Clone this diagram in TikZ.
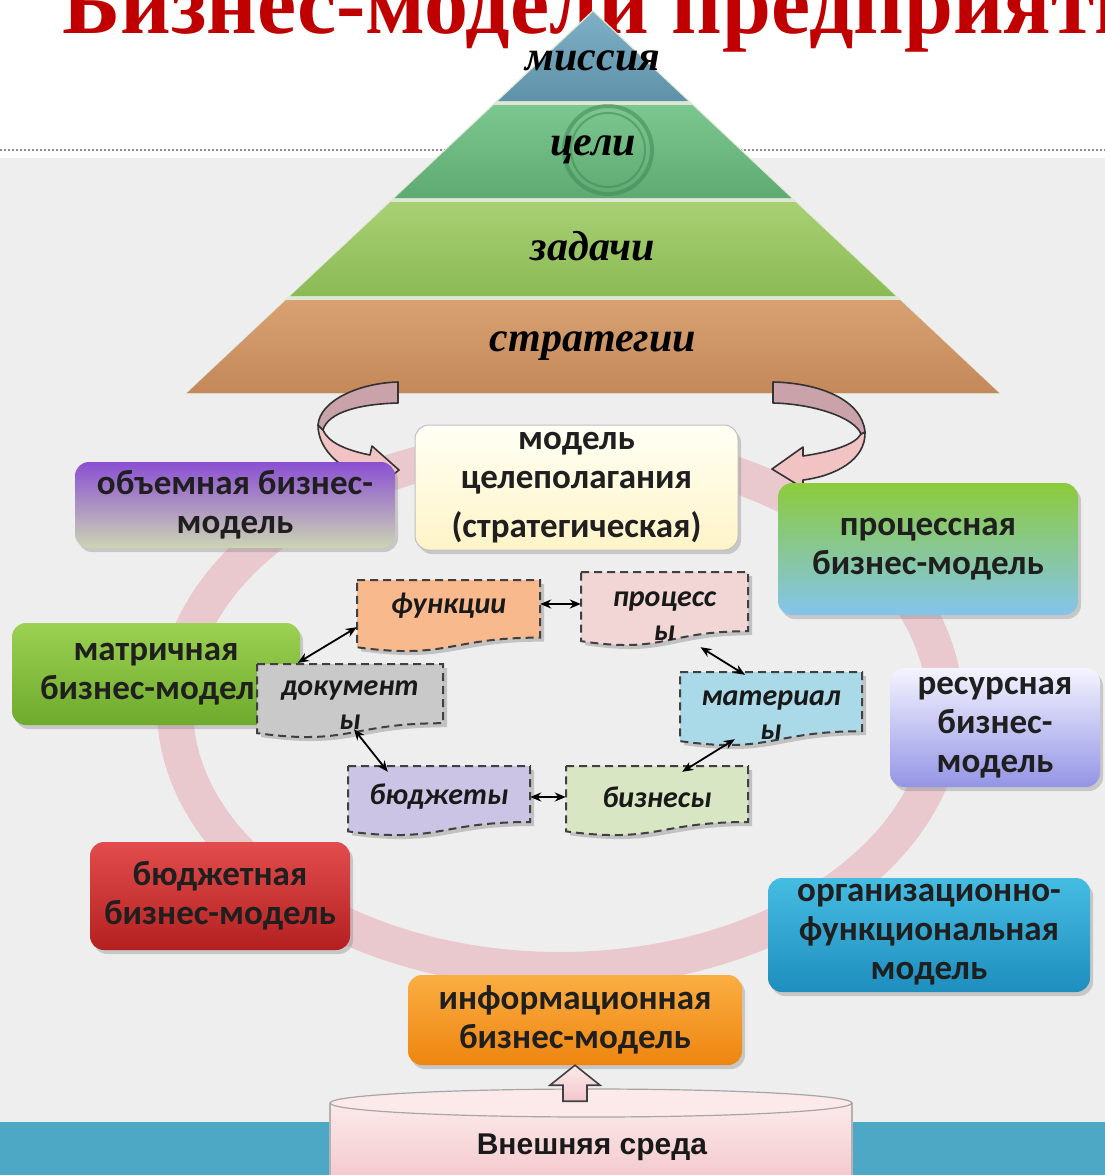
\documentclass[tikz,border=0pt]{standalone}
\usepackage{fontspec}
\setmainfont{Carlito}
\newfontfamily\boxfont{Carlito}
\newfontfamily\serifrus{Liberation Serif}
\newfontfamily\envfont{Liberation Sans}
\usetikzlibrary{shadows,arrows.meta,calc}

\definecolor{bggray}{HTML}{EEEEEE}
\definecolor{teal1}{HTML}{4DA8C6}
\definecolor{titlered}{HTML}{C00000}
\definecolor{ringc}{HTML}{E9C9CE}
\definecolor{misT}{HTML}{7DB0C6}\definecolor{misB}{HTML}{5F91A8}
\definecolor{celT}{HTML}{7CC690}\definecolor{celB}{HTML}{5FAA73}
\definecolor{zadT}{HTML}{A8D073}\definecolor{zadB}{HTML}{8BBA55}
\definecolor{strT}{HTML}{D8A172}\definecolor{strB}{HTML}{C4885A}
\definecolor{pyrgap}{HTML}{DDE8D4}
\definecolor{arrUp}{HTML}{C9A2AA}\definecolor{arrLo}{HTML}{F2C3C3}
\definecolor{modT}{HTML}{FFFFF4}\definecolor{modB}{HTML}{FFF4C8}
\definecolor{obT}{HTML}{8B4FD2}\definecolor{obM}{HTML}{B296C6}\definecolor{obB}{HTML}{CDD4B4}
\definecolor{prT}{HTML}{8CCB3A}\definecolor{prM}{HTML}{A6C98C}\definecolor{prB}{HTML}{84C4EC}
\definecolor{maT}{HTML}{9CD152}\definecolor{maB}{HTML}{6EAA2C}
\definecolor{reT}{HTML}{F4F4FF}\definecolor{reM}{HTML}{CACAF6}\definecolor{reB}{HTML}{9494E6}
\definecolor{buT}{HTML}{E24C4C}\definecolor{buB}{HTML}{B42020}
\definecolor{orT}{HTML}{45BCE2}\definecolor{orB}{HTML}{1E8EBE}
\definecolor{inT}{HTML}{FAAE42}\definecolor{inB}{HTML}{EE8510}
\definecolor{dFun}{HTML}{F8B98C}
\definecolor{dPro}{HTML}{F2D6D6}
\definecolor{dDoc}{HTML}{C9C9C9}
\definecolor{dMat}{HTML}{AAD9E7}
\definecolor{dBud}{HTML}{CCC4E4}
\definecolor{dBiz}{HTML}{D9E6C4}
\definecolor{cylT}{HTML}{FCEAEA}\definecolor{cylB}{HTML}{F2C6CB}
\definecolor{celring}{HTML}{3F8A55}

\tikzset{
  mbox/.style={rounded corners=14pt, inner sep=0pt, align=center, text=black!88,
    font=\boxfont\bfseries\fontsize{35}{39}\selectfont,
    drop shadow={shadow xshift=3pt, shadow yshift=-4pt, opacity=0.35}},
  docstyle/.style={draw=black!75, line width=2pt, dash pattern=on 8pt off 5pt,
    drop shadow={shadow xshift=4pt, shadow yshift=-4pt, opacity=0.4}},
  doctext/.style={inner sep=0pt, align=center, text=black!90,
    font=\boxfont\bfseries\itshape\fontsize{30}{34}\selectfont},
  dar/.style={{Stealth[length=11pt,width=9pt]}-{Stealth[length=11pt,width=9pt]}, line width=1.8pt, black},
  pyrtext/.style={font=\serifrus\bfseries\itshape\fontsize{42}{44}\selectfont, text=black},
  docshape/.style n args={4}{insert path={(#1,#2) -- (#3,#2) -- (#3,{#2+0.80*(#4-#2)})
     .. controls ({(#1+#3)/2},{#2+0.80*(#4-#2)}) and ({(#1+#3)/2},{#2+1.107*(#4-#2)}) ..
     (#1,{#2+0.934*(#4-#2)}) -- cycle}},
  curv/.style={draw=black!80, line width=1.6pt, line join=round},
}

\begin{document}
\begin{tikzpicture}[x=1pt,y=-1pt]
\useasboundingbox (0,0) rectangle (1105,1175);
\clip (0,0) rectangle (1105,1175);

% background
\fill[white] (0,0) rectangle (1105,1175);
\fill[bggray] (0,158) rectangle (1105,1122);
\draw[black!45, line width=1.2pt, dash pattern=on 2pt off 2pt] (0,150) -- (1105,150);
\fill[teal1] (0,1122) rectangle (1105,1175);

% title
\node[anchor=base west, inner sep=0pt, text=titlered,
  font=\serifrus\bfseries\fontsize{88}{88}\selectfont] (title) at (62,33) {Бизнес-модели предприятия};

% pyramid
\fill[pyrgap] (593,10) -- (1001,394) -- (185,394) -- cycle;
\shade[top color=misT, bottom color=misB] (593,12) -- (687.9,101) -- (498.1,101) -- cycle;
\shade[top color=celT, bottom color=celB] (493.9,105) -- (692.1,105) -- (791.3,198) -- (394.7,198) -- cycle;
\shade[top color=zadT, bottom color=zadB] (390.5,202) -- (795.5,202) -- (895.7,296) -- (290.3,296) -- cycle;
\shade[top color=strT, bottom color=strB] (286,300) -- (900,300) -- (999.1,393) -- (186.9,393) -- cycle;
\draw[celring, opacity=0.55, line width=4pt] (608,150) circle[radius=44pt];
\draw[celring, opacity=0.55, line width=2pt] (608,150) circle[radius=37pt];
\node[pyrtext] (mis) at (593,61) {миссия};
\node[pyrtext] (cel) at (593,150) {цели};
\node[pyrtext] (zad) at (593,246) {задачи};
\node[pyrtext] (str) at (593,346) {стратегии};

% big ring
\draw[ringc, line width=36pt] (560,708) ellipse [x radius=385pt, y radius=262pt];

% curved arrows
\path[curv, fill=arrLo] (318,425) .. controls (318,452) and (345,472) .. (373,480)
   -- (377,488) -- (399,470) -- (372,446) -- (370,455)
   .. controls (345,450) and (328,442) .. (323,430) -- cycle;
\path[curv, fill=arrUp] (398,382) .. controls (360,383) and (320,400) .. (318,425)
   -- (323,430) .. controls (328,412) and (360,404) .. (398,403) -- cycle;
\path[curv, fill=arrLo] (865,432) .. controls (866,460) and (835,476) .. (803,480)
   -- (803,488) -- (772,469) -- (803,447) -- (803,456)
   .. controls (830,452) and (855,445) .. (861,434) -- cycle;
\path[curv, fill=arrUp] (773,382) .. controls (820,383) and (862,400) .. (865,432)
   -- (861,434) .. controls (855,418) and (815,404) .. (773,403) -- cycle;

% business-model boxes
\node[mbox, draw=black!25, line width=1pt, top color=modT, bottom color=modB,
  minimum width=323pt, minimum height=125pt] (goal) at (576.5,487.5)
  {модель\\целеполагания\\[10pt](стратегическая)};
\node[mbox, top color=obT, middle color=obM, bottom color=obB,
  minimum width=320pt, minimum height=86pt] (vol) at (235,505) {объемная бизнес-\\модель};
\node[mbox, top color=prT, middle color=prM, bottom color=prB,
  minimum width=300pt, minimum height=132pt] (proc) at (928,549) {процессная\\бизнес-модель};
\node[mbox, top color=maT, bottom color=maB,
  minimum width=288pt, minimum height=102pt] (matr) at (156,674) {матричная\\бизнес-модель};
\node[mbox, top color=reT, middle color=reM, bottom color=reB,
  minimum width=210pt, minimum height=119pt] (res) at (995,727.5) {ресурсная\\бизнес-\\модель};
\node[mbox, top color=buT, bottom color=buB,
  minimum width=260pt, minimum height=108pt] (bud) at (220,896) {бюджетная\\бизнес-модель};
\node[mbox, top color=orT, bottom color=orB,
  minimum width=322pt, minimum height=114pt] (org) at (929,935) {организационно-\\функциональная\\модель};
\node[mbox, top color=inT, bottom color=inB,
  minimum width=334pt, minimum height=90pt] (info) at (575,1020) {информационная\\бизнес-модель};

% document shapes
\path[docstyle, fill=dFun, docshape={357}{580}{540}{652}];
\path[docstyle, fill=dPro, docshape={581}{572}{748}{646}];
\path[docstyle, fill=dDoc, docshape={257}{664}{443}{738}];
\path[docstyle, fill=dMat, docshape={680}{672}{862}{746}];
\path[docstyle, fill=dBud, docshape={348}{766}{530}{836}];
\path[docstyle, fill=dBiz, docshape={566}{766}{748}{836}];
\node[doctext, minimum width=183pt, minimum height=52pt] (fun) at (448.5,606) {функции};
\node[doctext, minimum width=167pt, minimum height=60pt] (prc) at (664.5,616) {процесс\\ы};
\node[doctext, minimum width=186pt, minimum height=60pt] (doc) at (350,705) {документ\\ы};
\node[doctext, minimum width=182pt, minimum height=56pt] (mat) at (771,715) {материал\\ы};
\node[doctext, minimum width=182pt, minimum height=50pt] (bdg) at (439,797) {бюджеты};
\node[doctext, minimum width=182pt, minimum height=50pt] (biz) at (657,797) {бизнесы};

% double arrows
\draw[dar] ([yshift=2pt]fun.east) -- ([yshift=2pt]fun.east -| prc.west);
\draw[dar] ([yshift=5pt]fun.south west) -- ([xshift=41pt,yshift=12pt]doc.north west);
\draw[dar] ([xshift=4pt,yshift=6pt]doc.south) -- ([xshift=40pt]bdg.north west);
\draw[dar] (bdg.east) -- (bdg.east -| biz.west);
\draw[dar] ([xshift=55pt,yshift=4pt]mat.south west) -- ([xshift=-66pt]biz.north east);
\draw[dar] ([xshift=36pt,yshift=-1pt]prc.south) -- ([xshift=-26pt,yshift=12pt]mat.north);

% external environment
\coordinate (envtop) at (591,1103);
\shade[top color=cylT, bottom color=cylB] (330,1103) rectangle (852,1185);
\draw[black!30, line width=1.2pt] (330,1103) -- (330,1185) (852,1103) -- (852,1185);
\draw[fill=cylT, draw=black!35, line width=1.2pt] (envtop) ellipse [x radius=261pt, y radius=14pt];
\shade[top color=cylT, bottom color=cylB, draw=black!75, line width=1.6pt]
  (info.south) -- ++(25,20) -- ++(-13,0) -- ++(0,16) -- ++(-24,0) -- ++(0,-16) -- ++(-13,0) -- cycle;
\node[font=\envfont\bfseries\fontsize{30}{34}\selectfont, text=black!90] (env) at (592,1147) {Внешняя среда};
\end{tikzpicture}
\end{document}
